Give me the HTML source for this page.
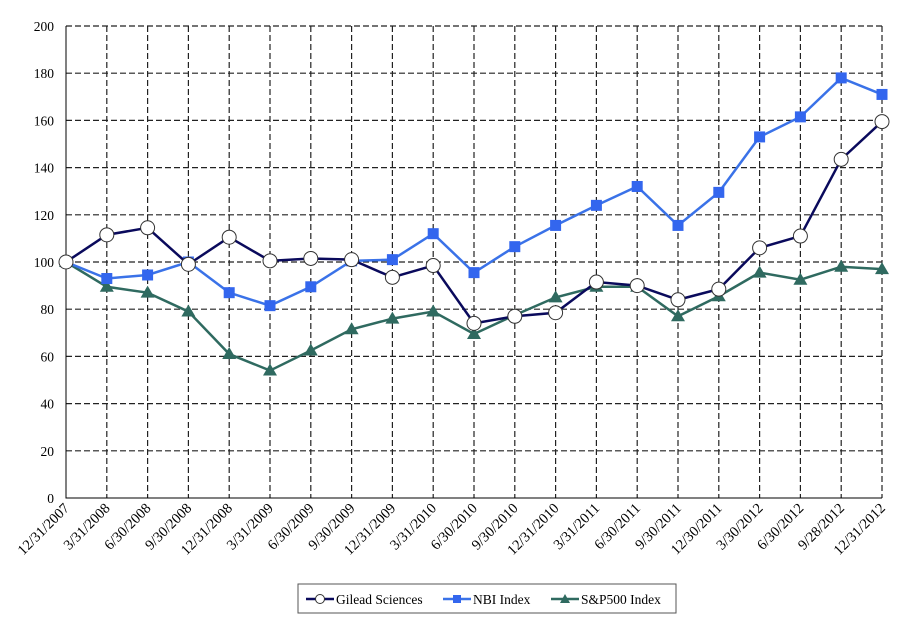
<!DOCTYPE html>
<html><head><meta charset="utf-8"><style>
body{margin:0;background:#fff;}
svg text{font-family:"Liberation Serif",serif;font-size:13.5px;fill:#000;}
svg text.xl{font-size:14.5px;}
</style></head><body>
<svg id="chart" width="906" height="618"></svg>
<script>
const categories=["12/31/2007","3/31/2008","6/30/2008","9/30/2008","12/31/2008","3/31/2009","6/30/2009","9/30/2009","12/31/2009","3/31/2010","6/30/2010","9/30/2010","12/31/2010","3/31/2011","6/30/2011","9/30/2011","12/30/2011","3/30/2012","6/30/2012","9/28/2012","12/31/2012"];
const gilead=[100,111.5,114.5,99,110.5,100.5,101.5,101,93.5,98.5,74,77,78.5,91.5,90,84,88.5,106,111,143.5,159.5];
const nbi=[100,93,94.5,100,87,81.5,89.5,100.5,101,112,95.5,106.5,115.5,124,132,115.5,129.5,153,161.5,178,171];
const sp500=[100,89.5,87,79,61,54,62.5,71.5,76,79,69.5,77.5,85,89.5,89.5,77,85.5,95.5,92.5,98,97];
const yTicks=[0,20,40,60,80,100,120,140,160,180,200];
const NS="http://www.w3.org/2000/svg";
const svg=document.getElementById('chart');
const L=66,R=882,T=26,B=498;
const x=i=>L+i*(R-L)/(categories.length-1);
const y=v=>B-v/200*(B-T);
function mk(tag,attrs,parent){const e=document.createElementNS(NS,tag);for(const k in attrs)e.setAttribute(k,attrs[k]);(parent||svg).appendChild(e);return e;}
yTicks.forEach(v=>{
 if(v>0){const g=mk('line',{x1:L,x2:R,y1:y(v),y2:y(v),stroke:'#222','stroke-dasharray':'6,3','stroke-width':1.2});
 
 }
 const t=mk('text',{x:L-12,y:y(v)+5,'text-anchor':'end'});t.textContent=v;
 
 
});
categories.forEach((c,i)=>{
 if(i>0){const g=mk('line',{x1:x(i),x2:x(i),y1:T,y2:B,stroke:'#222','stroke-dasharray':'6,3','stroke-width':1.2});
 
 }
 const t=mk('text',{class:'xl',x:x(i)+4,y:B+11,'text-anchor':'end',transform:`rotate(-45 ${x(i)+4} ${B+11})`});t.textContent=c;
 
 
});
const ax=mk('path',{d:`M${L} ${T}V${B}H${R}`,stroke:'#000',fill:'none','stroke-width':1});


function series(vals,color,marker,name){
 const g=mk('g',{});
 
 
 const p=mk('polyline',{points:vals.map((v,i)=>x(i)+','+y(v)).join(' '),fill:'none',stroke:color,'stroke-width':2.5},g);
 
 
 vals.forEach((v,i)=>{
  let m;
  if(marker==='circle')m=mk('circle',{cx:x(i),cy:y(v),r:7,fill:'#fff',stroke:'#333','stroke-width':1},g);
  else if(marker==='square')m=mk('rect',{x:x(i)-5.5,y:y(v)-5.5,width:11,height:11,fill:'#3366ee'},g);
  else m=mk('path',{d:`M${x(i)} ${y(v)-7}L${x(i)+7} ${y(v)+5}L${x(i)-7} ${y(v)+5}Z`,fill:'#2f6a60'},g);
  
  
 });
}
series(sp500,'#2f6a60','tri','sp500');
series(nbi,'#3a72e8','square','nbi');
series(gilead,'#0a0a5c','circle','gilead');
const lg=mk('g',{});


mk('rect',{x:298,y:584,width:378,height:29,fill:'#fff',stroke:'#555','stroke-width':1},lg);
const items=[['Gilead Sciences','#0a0a5c','circle',306],['NBI Index','#3a72e8','square',443],['S&P500 Index','#2f6a60','tri',551]];
items.forEach(([lab,col,mkr,lx])=>{
 const e=mk('g',{},lg);
 
 
 mk('line',{x1:lx,x2:lx+28,y1:599,y2:599,stroke:col,'stroke-width':2.5},e);
 const cx=lx+14;
 if(mkr==='circle')mk('circle',{cx:cx,cy:599,r:4.5,fill:'#fff',stroke:'#333'},e);
 else if(mkr==='square')mk('rect',{x:cx-4,y:595,width:8,height:8,fill:'#3366ee'},e);
 else mk('path',{d:`M${cx} 594L${cx+5} 603L${cx-5} 603Z`,fill:'#2f6a60'},e);
 const t=mk('text',{x:lx+30,y:604},e);t.textContent=lab;
});
</script>
</body></html>
